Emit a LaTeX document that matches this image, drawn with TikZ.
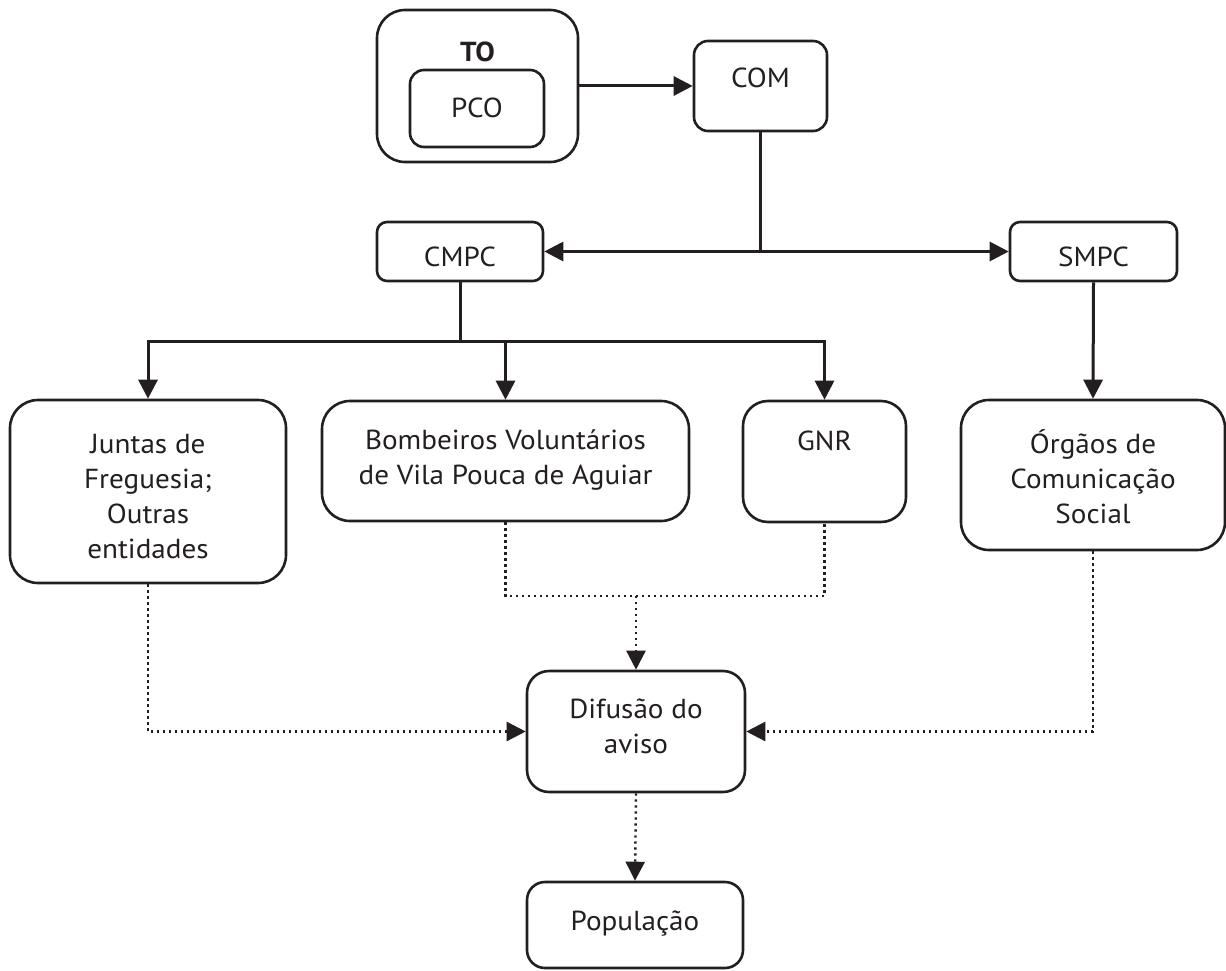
\documentclass[tikz,border=0pt]{standalone}
\usepackage{fontspec}
\setmainfont[FakeStretch=1.06]{PT Sans}
\usetikzlibrary{arrows.meta}

\definecolor{inkgray}{HTML}{231F20}

% Box label: width, height, first-baseline offset from the top, text
\newcommand\boxtext[4]{%
  \parbox[c][#2][t]{#1}{\centering\fontsize{27.5}{35}\selectfont
    \vspace*{\dimexpr#3-35pt\relax}\rule{0pt}{35pt}#4}}

\tikzset{
  box/.style={draw=inkgray, line width=2.6pt, fill=white, inner sep=0pt, text=inkgray},
  link/.style={draw=inkgray, line width=3pt},
  dots/.style={draw=inkgray, line width=2.4pt, dash pattern=on 2.4pt off 3.6pt},
  tip/.style={-{Triangle[length=19pt,width=19pt]}},
}

\begin{document}
\begin{tikzpicture}[x=1pt, y=-1pt]
  \useasboundingbox[fill=white] (0,0) rectangle (1226,971);

  % upper command chain
  \node[box, rounded corners=28pt] (to) at (477.5,86)
    {\boxtext{201pt}{152pt}{52pt}{\textbf{TO}}};
  \node[box, rounded corners=14pt] (pco) at (477,108.5)
    {\boxtext{134pt}{77pt}{47pt}{PCO}};
  \node[box, rounded corners=14pt] (com) at (760.5,86)
    {\boxtext{133pt}{90pt}{47pt}{COM}};
  \node[box, rounded corners=10pt] (cmpc) at (460,251.5)
    {\boxtext{166pt}{59pt}{44pt}{CMPC}};
  \node[box, rounded corners=10pt] (smpc) at (1093.5,251.5)
    {\boxtext{167pt}{59pt}{44pt}{SMPC}};

  % agents
  \node[box, rounded corners=28pt] (juntas) at (148,491.5)
    {\boxtext{276pt}{183pt}{53pt}{Juntas de\\Freguesia;\\Outras\\entidades}};
  \node[box, rounded corners=28pt] (bomb) at (505.5,461)
    {\boxtext{367pt}{120pt}{48pt}{Bombeiros Voluntários\\de Vila Pouca de Aguiar}};
  \node[box, rounded corners=25pt] (gnr) at (824.5,461.5)
    {\boxtext{163pt}{121pt}{49pt}{GNR}};
  \node[box, rounded corners=28pt] (orgaos) at (1093,475)
    {\boxtext{264pt}{150pt}{53pt}{Órgãos de\\Comunicação\\Social}};

  % warning and recipients
  \node[box, rounded corners=22pt] (difusao) at (636,731.5)
    {\boxtext{218pt}{121pt}{47pt}{Difusão do\\aviso}};
  \node[box, rounded corners=18pt] (populacao) at (635,925)
    {\boxtext{216pt}{86pt}{48pt}{População}};

  % solid links
  \draw[link, tip] (to.east) -- (com.west);
  \coordinate (split) at (com.south |- cmpc.east);
  \draw[link] (com.south) -- (split);
  \draw[link, tip] (split) -- (cmpc.east);
  \draw[link, tip] (split) -- (smpc.west);

  \coordinate (bus) at (cmpc.south |- 0,341);
  \draw[link] (cmpc.south) -- (bus);
  \draw[link, tip] (bus) -| (juntas.north);
  \draw[link, tip] (bus) -| (bomb.north);
  \draw[link, tip] (bus) -| (gnr.north);
  \draw[link, tip] (smpc.south) -- (orgaos.north);

  % dotted links
  \coordinate (merge) at (difusao.north |- 0,596);
  \draw[dots] (bomb.south) |- (merge) -| (gnr.south);
  \draw[dots, tip] (merge) -- (difusao.north);
  \draw[dots, tip] (juntas.south) |- (difusao.west);
  \draw[dots, tip] (orgaos.south) |- (difusao.east);
  \draw[dots, tip] (difusao.south) -- (populacao.north);
\end{tikzpicture}
\end{document}
